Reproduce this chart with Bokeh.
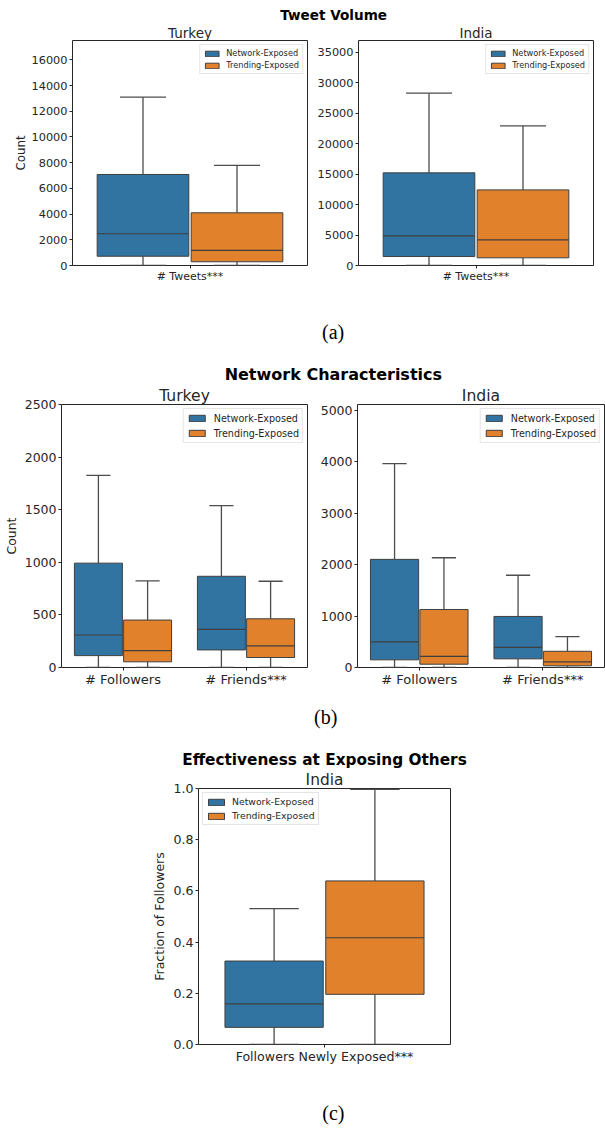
from bokeh.plotting import figure
from bokeh.layouts import column, row
from bokeh.models import (ColumnDataSource, Range1d, FixedTicker, Legend, LegendItem,
                          Title, PrintfTickFormatter)
from bokeh.core.properties import value
from bokeh.embed import file_html
from bokeh.resources import INLINE

# ---------------- data (five-number summaries: low, q1, median, q3, high) -------------
HUES = ["Network-Exposed", "Trending-Exposed"]

TWEET_CATS = ["# Tweets"]
TWEET_SIG = ["***"]
TWEETS_TUR_NET = [(0, 720, 2470, 7080, 13100)]
TWEETS_TUR_TRD = [(0, 290, 1170, 4100, 7780)]
TWEETS_IND_NET = [(0, 1480, 4870, 15200, 28260)]
TWEETS_IND_TRD = [(0, 1260, 4210, 12400, 22900)]
TWEETS_TUR_YTICKS = [0, 2000, 4000, 6000, 8000, 10000, 12000, 14000, 16000]
TWEETS_IND_YTICKS = [0, 5000, 10000, 15000, 20000, 25000, 30000, 35000]
TWEETS_TUR_YMAX = 17500
TWEETS_IND_YMAX = 36900

NET_CATS = ["# Followers", "# Friends"]
NET_SIG = ["", "***"]
NET_TUR_NET = [(0, 113, 309, 992, 1826), (0, 167, 362, 867, 1539)]
NET_TUR_TRD = [(0, 54, 161, 451, 823), (0, 95, 205, 463, 820)]
NET_IND_NET = [(0, 149, 497, 2101, 3963), (0, 168, 392, 992, 1792)]
NET_IND_TRD = [(0, 64, 218, 1127, 2132), (0, 33, 110, 315, 599)]
NET_TUR_YTICKS = [0, 500, 1000, 1500, 2000, 2500]
NET_IND_YTICKS = [0, 1000, 2000, 3000, 4000, 5000]
NET_TUR_YMAX = 2500
NET_IND_YMAX = 5110

EFF_CATS = ["Followers Newly Exposed"]
EFF_SIG = ["***"]
EFF_IND_NET = [(0, 0.067, 0.159, 0.326, 0.531)]
EFF_IND_TRD = [(0, 0.196, 0.417, 0.639, 0.997)]
EFF_YTICKS = [0.0, 0.2, 0.4, 0.6, 0.8, 1.0]
EFF_YMAX = 1.0

# ---------------- style ----------------
COLORS = ["#3274a1", "#e1812c"]
EDGE = "#3f3f3f"
WHISK = "#4d4d4d"
TXT = "#262626"
FONT = "DejaVu Sans"
SERIF = "Liberation Serif"
BOXW = 0.39
CAPW = 0.196
PAGE_W = 605


def panel(cats, sig, series, ymax, yticks, fmt, titles, ylabel, W, H, bl, br, bt, bb,
          tick_fs, lab_fs, leg):
    n = len(cats)
    p = figure(width=W, height=H, x_range=Range1d(-0.5, n - 0.5), y_range=Range1d(0, ymax),
               output_backend="svg", toolbar_location=None, title=None,
               min_border_left=bl, min_border_right=br, min_border_top=bt, min_border_bottom=bb)
    for (txt, fs, style) in titles:
        p.add_layout(Title(text=txt, align="center", text_font=FONT, text_font_size=fs,
                           text_font_style=style, text_color="black" if style == "bold" else TXT,
                           standoff=0), "above")
    p.grid.visible = False
    p.outline_line_color = TXT
    p.outline_line_width = 1
    p.background_fill_color = "white"
    p.border_fill_color = "white"
    rends = []
    for k, stats in enumerate(series):
        off = -0.2 if k == 0 else 0.2
        xs = [i + off for i in range(n)]
        src = ColumnDataSource(dict(
            x=xs,
            low=[s[0] for s in stats], q1=[s[1] for s in stats], med=[s[2] for s in stats],
            q3=[s[3] for s in stats], high=[s[4] for s in stats],
            bx0=[x - BOXW / 2 for x in xs], bx1=[x + BOXW / 2 for x in xs],
            cx0=[x - CAPW / 2 for x in xs], cx1=[x + CAPW / 2 for x in xs]))
        p.segment(x0="x", y0="q3", x1="x", y1="high", source=src, line_color=WHISK, line_width=1.3)
        p.segment(x0="x", y0="low", x1="x", y1="q1", source=src, line_color=WHISK, line_width=1.3)
        p.segment(x0="cx0", y0="high", x1="cx1", y1="high", source=src, line_color=WHISK, line_width=1.3)
        p.segment(x0="cx0", y0="low", x1="cx1", y1="low", source=src, line_color=WHISK, line_width=1.3)
        r = p.vbar(x="x", width=BOXW, bottom="q1", top="q3", source=src,
                   fill_color=COLORS[k], line_color=EDGE, line_width=1)
        p.segment(x0="bx0", y0="med", x1="bx1", y1="med", source=src, line_color=EDGE, line_width=1.2)
        rends.append(r)

    for ax in p.axis:
        ax.axis_line_color = None
        ax.major_tick_line_color = TXT
        ax.major_tick_out = 3
        ax.major_tick_in = 0
        ax.minor_tick_line_color = None
        ax.major_label_text_font = FONT
        ax.major_label_text_color = TXT
        ax.major_label_text_font_size = tick_fs
    xa = p.xaxis[0]
    xa.ticker = FixedTicker(ticks=list(range(n)))
    xa.major_label_overrides = {i: c + s for i, (c, s) in enumerate(zip(cats, sig))}
    xa.major_label_standoff = 1
    xa.major_label_text_font_size = lab_fs
    ya = p.yaxis[0]
    ya.ticker = FixedTicker(ticks=yticks)
    ya.formatter = PrintfTickFormatter(format=fmt)
    ya.major_label_standoff = 2
    if ylabel:
        ya.axis_label = ylabel
        ya.axis_label_text_font = FONT
        ya.axis_label_text_font_style = "normal"
        ya.axis_label_text_font_size = leg["ylab_fs"]
        ya.axis_label_text_color = TXT
        ya.axis_label_standoff = leg["ylab_so"]

    lg = Legend(items=[LegendItem(label=HUES[k], renderers=[rends[k]]) for k in range(2)],
                location=leg["loc"], margin=leg["margin"], padding=3, spacing=leg["spacing"],
                glyph_width=leg["gw"], glyph_height=leg["gh"], label_height=leg["lh"],
                label_standoff=leg["so"], label_text_font=FONT,
                label_text_font_size=leg["fs"], label_text_color=TXT,
                border_line_color="#cccccc", border_line_width=1,
                background_fill_color="white", background_fill_alpha=0.8)
    p.add_layout(lg)
    return p


def strip(H, top, texts):
    p = figure(width=PAGE_W, height=H, x_range=Range1d(0, PAGE_W), y_range=Range1d(top + H, top),
               output_backend="svg", toolbar_location=None, title=None, min_border=0,
               x_axis_type=None, y_axis_type=None)
    p.outline_line_color = None
    p.grid.visible = False
    for (x, y, txt, font, size, style) in texts:
        p.text(x=[x], y=[y], text=[txt], text_font=value(font), text_font_size=size,
               text_font_style=style, text_align="center", text_baseline="middle",
               text_color="black")
    return p


LEG_A = dict(loc="top_right", margin=4, spacing=2, gw=17, gh=7, lh=9, so=6, fs="8.2px",
             ylab_fs="11.8px", ylab_so=1)
LEG_B = dict(loc="top_right", margin=4, spacing=3, gw=20, gh=8, lh=12, so=7, fs="9.6px",
             ylab_fs="12.4px", ylab_so=3)
LEG_C = dict(loc="top_left", margin=4, spacing=3, gw=20, gh=8, lh=11, so=6, fs="9.3px",
             ylab_fs="12.5px", ylab_so=3)

s0 = strip(22, 0, [(324.5, 14.5, "Tweet Volume", FONT, "13.6px", "bold")])
pA1 = panel(TWEET_CATS, TWEET_SIG, [TWEETS_TUR_NET, TWEETS_TUR_TRD], TWEETS_TUR_YMAX,
            TWEETS_TUR_YTICKS, "%d", [("Turkey", "13.5px", "normal")], "Count",
            314, 268, 72, 7, 0, 25, "11.3px", "11px", LEG_A)
pA2 = panel(TWEET_CATS, TWEET_SIG, [TWEETS_IND_NET, TWEETS_IND_TRD], TWEETS_IND_YMAX,
            TWEETS_IND_YTICKS, "%d", [("India", "13.5px", "normal")], None,
            291, 268, 42, 12, 0, 25, "11.3px", "11px", LEG_A)
s1 = strip(94, 290, [(323.3, 331, "(a)", SERIF, "20px", "normal"),
                     (323.7, 374, "Network Characteristics", FONT, "16px", "bold")])
pB1 = panel(NET_CATS, NET_SIG, [NET_TUR_NET, NET_TUR_TRD], NET_TUR_YMAX, NET_TUR_YTICKS, "%d",
            [("Turkey", "15.6px", "normal")], "Count", 314, 311, 60, 7, 0, 28,
            "12.5px", "13px", LEG_B)
pB2 = panel(NET_CATS, NET_SIG, [NET_IND_NET, NET_IND_TRD], NET_IND_YMAX, NET_IND_YTICKS, "%d",
            [("India", "15.6px", "normal")], None, 291, 311, 43, 1, 0, 28,
            "12.5px", "13px", LEG_B)
s2 = strip(53, 695, [(305.5, 716, "(b)", SERIF, "20px", "normal")])
pC = panel(EFF_CATS, EFF_SIG, [EFF_IND_NET, EFF_IND_TRD], EFF_YMAX, EFF_YTICKS, "%.1f",
           [("India", "15.4px", "normal"), ("Effectiveness at Exposing Others", "15.3px", "bold")],
           "Fraction of Followers", PAGE_W, 320, 198, 155, 0, 24,
           "12.6px", "12.6px", LEG_C)
s3 = strip(58, 1068, [(323.8, 1112.5, "(c)", SERIF, "20px", "normal")])

layout = column(s0, row(pA1, pA2), s1, row(pB1, pB2), s2, pC, s3)
open("out.html", "w").write(file_html(layout, INLINE))
